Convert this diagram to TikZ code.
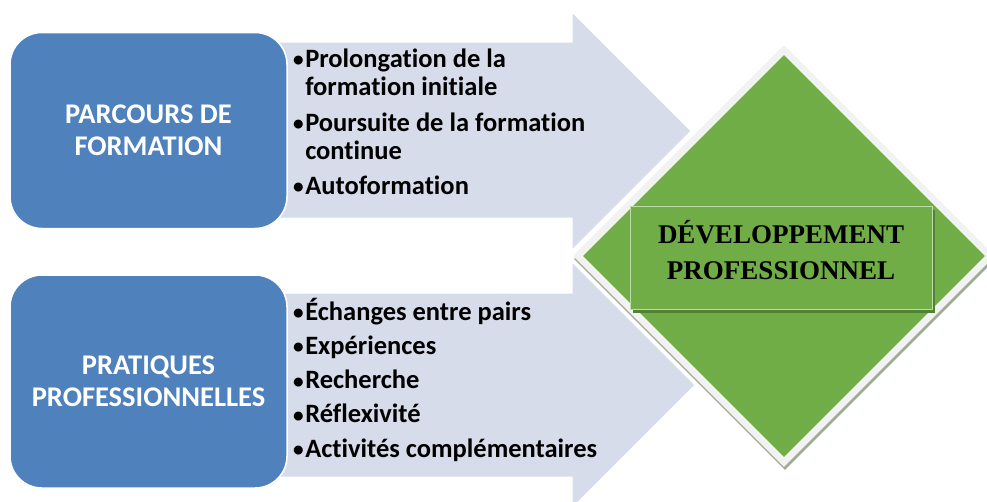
\documentclass[tikz,border=0pt]{standalone}
\usepackage{fontspec}
\setmainfont{Carlito}[Ligatures=NoCommon]
\newfontfamily\serifbold{Liberation Serif}[BoldFont={Liberation Serif Bold}]
\usetikzlibrary{shapes.geometric}
\definecolor{boxblue}{RGB}{79,129,189}
\definecolor{arrowfill}{RGB}{214,220,233}
\definecolor{dgreen}{RGB}{112,173,71}
\definecolor{dgreendark}{RGB}{84,130,53}
\definecolor{dgreenlight}{RGB}{190,220,170}
\definecolor{rimgray}{RGB}{242,242,242}
\definecolor{shadowgray}{RGB}{160,172,150}
\newcommand{\bul}{\raisebox{0.5pt}{\scalebox{0.8}{•}}}
\tikzset{
  arrowshape/.style={fill=arrowfill, draw=white, line width=1pt},
  bluebox/.style={fill=boxblue, draw=white, line width=1.5pt, rounded corners=32pt,
    minimum width=277pt, inner sep=0pt, text=white, align=center,
    font=\bfseries\fontsize{28.5}{32}\selectfont},
  bullets/.style={inner sep=0pt, anchor=base west, text=black, font=\bfseries},
  diam/.style={diamond, aspect=1, inner sep=0pt},
  devbox/.style={fill=dgreen, draw=dgreenlight, line width=0.8pt, minimum width=302pt,
    minimum height=103pt, inner sep=0pt},
  devtext/.style={inner sep=0pt, align=center,
    font=\serifbold\bfseries\fontsize{27}{35.5}\selectfont}
}
\begin{document}
\begin{tikzpicture}[x=1pt,y=-1pt]
\useasboundingbox (0,0) rectangle (987,501);
\clip (0,0) rectangle (987,501);
\fill[white] (0,0) rectangle (987,501);
% arrows
\path[arrowshape] (270,42) -- (572,42) -- (572,12) -- (691,131) -- (572,250) -- (572,218) -- (270,218) -- cycle;
\path[arrowshape] (270,293) -- (572,293) -- (572,262) -- (695,385) -- (572,508) -- (572,477) -- (270,477) -- cycle;
% diamond
\node[diam, fill=shadowgray, minimum width=422pt, minimum height=422pt] (dshadow) at (785,259) {};
\node[diam, fill=rimgray, minimum width=422pt, minimum height=422pt] (drim) at (784,256) {};
\node[diam, fill=dgreen, minimum width=402pt, minimum height=402pt] (dgreenshape) at (784,256) {};
\node[fill=dgreendark, minimum width=302pt, minimum height=103pt, inner sep=0pt] (devshadow) at (784,261) {};
\node[devbox] (dev) at (781,258) {};
\node[devtext] (devlabel) at (781,250) {DÉVELOPPEMENT\\PROFESSIONNEL};
% blue boxes
\node[bluebox, minimum height=196pt] (pf) at (148.5,130.5) {PARCOURS DE\\FORMATION};
\node[bluebox, minimum height=213pt] (pp) at (148.5,381.5) {PRATIQUES\\PROFESSIONNELLES};
% bullet lists
\node[bullets] (l1) at (293,67) {\fontsize{26.5}{28}\selectfont
  \begin{tabular}[t]{@{}l@{\hspace{1.5pt}}l@{}}
  \bul&Prolongation de la\\
   &formation initiale\\[8pt]
  \bul&Poursuite de la formation\\
   &continue\\[7pt]
  \bul&Autoformation
  \end{tabular}};
\node[bullets] (l2) at (293,320) {\fontsize{26.5}{34.3}\selectfont
  \begin{tabular}[t]{@{}l@{\hspace{1.5pt}}l@{}}
  \bul&Échanges entre pairs\\
  \bul&Expériences\\
  \bul&Recherche\\
  \bul&Réflexivité\\
  \bul&Activités complémentaires
  \end{tabular}};
\end{tikzpicture}
\end{document}
